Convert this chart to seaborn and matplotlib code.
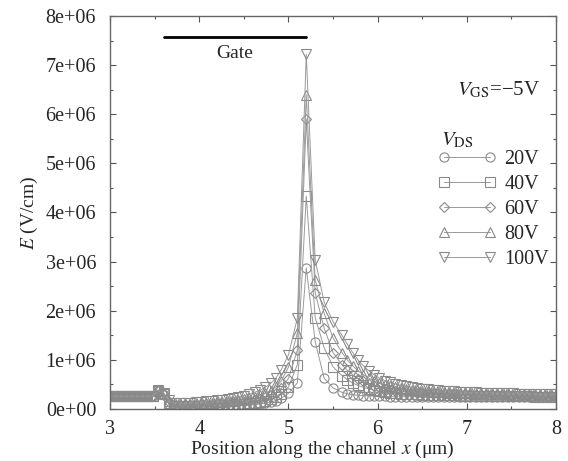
import numpy as np
import pandas as pd
import seaborn as sns
import matplotlib.pyplot as plt
from matplotlib.ticker import MultipleLocator, FuncFormatter

# Position along the channel (um): coarse mesh left of the gate edge,
# sparse around the peak, then the drain side
x_um = [3.00, 3.06, 3.12, 3.18, 3.24, 3.30, 3.36, 3.42, 3.48, 3.54, 3.60,
        3.66, 3.72, 3.78, 3.84, 3.90, 3.96, 4.02, 4.08, 4.14, 4.20, 4.26,
        4.32, 4.38, 4.44, 4.50, 4.56, 4.62, 4.68, 4.74, 4.80, 4.86, 4.92,
        5.00, 5.10, 5.20, 5.30, 5.40, 5.50,
        5.60, 5.66, 5.72, 5.78, 5.84, 5.90, 5.96, 6.02, 6.08, 6.14, 6.20,
        6.26, 6.32, 6.38, 6.44, 6.50, 6.56, 6.62, 6.68, 6.74, 6.80, 6.86,
        6.92, 6.98, 7.04, 7.10, 7.16, 7.22, 7.28, 7.34, 7.40, 7.46, 7.52,
        7.58, 7.64, 7.70, 7.76, 7.82, 7.88, 7.94, 8.00]

# Electric field in MV/cm for each drain voltage
e_20 = [0.26, 0.26, 0.26, 0.26, 0.26, 0.26, 0.26, 0.26, 0.27, 0.36, 0.29,
        0.10,
        0.05, 0.04, 0.04, 0.04, 0.04, 0.04, 0.05, 0.05, 0.05, 0.05, 0.06,
        0.06, 0.07, 0.07, 0.08, 0.09, 0.10, 0.12, 0.14, 0.17, 0.22,
        0.32, 0.53, 2.87, 1.37, 0.63, 0.43,
        0.34, 0.31, 0.29, 0.28, 0.27, 0.27, 0.26, 0.26, 0.26, 0.25, 0.25,
        0.25, 0.25, 0.25, 0.25, 0.24, 0.24, 0.24, 0.24, 0.24, 0.24, 0.24,
        0.24, 0.24, 0.24, 0.24, 0.24, 0.24, 0.24, 0.24, 0.24, 0.24, 0.24,
        0.24, 0.24, 0.24, 0.24, 0.24, 0.24, 0.24, 0.24]
e_40 = [0.26, 0.26, 0.26, 0.26, 0.26, 0.26, 0.26, 0.26, 0.27, 0.37, 0.30,
        0.12,
        0.07, 0.06, 0.06, 0.06, 0.06, 0.07, 0.07, 0.07, 0.08, 0.08, 0.09,
        0.09, 0.10, 0.11, 0.12, 0.13, 0.15, 0.17, 0.20, 0.24, 0.30,
        0.45, 0.90, 4.33, 1.86, 1.25, 0.86,
        0.68, 0.60, 0.53, 0.48, 0.44, 0.41, 0.38, 0.36, 0.35, 0.33, 0.32,
        0.31, 0.31, 0.30, 0.30, 0.29, 0.29, 0.29, 0.28, 0.28, 0.28, 0.28,
        0.27, 0.27, 0.27, 0.27, 0.27, 0.27, 0.26, 0.26, 0.26, 0.26, 0.26,
        0.26, 0.26, 0.26, 0.25, 0.25, 0.25, 0.25, 0.25]
e_60 = [0.26, 0.26, 0.26, 0.26, 0.26, 0.26, 0.26, 0.26, 0.27, 0.38, 0.31,
        0.14,
        0.09, 0.08, 0.08, 0.08, 0.09, 0.09, 0.10, 0.10, 0.11, 0.11, 0.12,
        0.13, 0.14, 0.15, 0.17, 0.19, 0.21, 0.24, 0.28, 0.33, 0.42,
        0.62, 1.20, 5.90, 2.37, 1.65, 1.15,
        0.90, 0.79, 0.70, 0.62, 0.56, 0.51, 0.47, 0.44, 0.41, 0.39, 0.37,
        0.36, 0.35, 0.34, 0.33, 0.32, 0.32, 0.31, 0.31, 0.30, 0.30, 0.30,
        0.29, 0.29, 0.29, 0.29, 0.28, 0.28, 0.28, 0.28, 0.28, 0.27, 0.27,
        0.27, 0.27, 0.27, 0.27, 0.27, 0.26, 0.26, 0.26]
e_80 = [0.26, 0.26, 0.26, 0.26, 0.26, 0.26, 0.26, 0.26, 0.27, 0.38, 0.32,
        0.16,
        0.11, 0.10, 0.10, 0.11, 0.11, 0.12, 0.12, 0.13, 0.14, 0.15, 0.16,
        0.17, 0.19, 0.20, 0.22, 0.25, 0.28, 0.32, 0.37, 0.45, 0.57,
        0.85, 1.55, 6.40, 2.63, 1.95, 1.45,
        1.15, 1.00, 0.88, 0.78, 0.70, 0.63, 0.57, 0.53, 0.49, 0.46, 0.44,
        0.42, 0.40, 0.39, 0.38, 0.37, 0.36, 0.35, 0.34, 0.34, 0.33, 0.33,
        0.32, 0.32, 0.32, 0.31, 0.31, 0.31, 0.30, 0.30, 0.30, 0.30, 0.29,
        0.29, 0.29, 0.29, 0.29, 0.28, 0.28, 0.28, 0.28]
e_100 = [0.26, 0.26, 0.26, 0.26, 0.26, 0.26, 0.26, 0.26, 0.27, 0.39, 0.33,
         0.18,
         0.13, 0.12, 0.13, 0.13, 0.14, 0.15, 0.16, 0.17, 0.18, 0.19, 0.21,
         0.23, 0.25, 0.27, 0.30, 0.34, 0.38, 0.44, 0.52, 0.63, 0.80,
         1.10, 1.85, 7.22, 3.04, 2.18, 1.78,
         1.50, 1.32, 1.15, 1.00, 0.88, 0.78, 0.70, 0.63, 0.58, 0.54, 0.51,
         0.48, 0.46, 0.44, 0.42, 0.41, 0.40, 0.39, 0.38, 0.37, 0.36, 0.36,
         0.35, 0.35, 0.34, 0.34, 0.33, 0.33, 0.33, 0.32, 0.32, 0.32, 0.32,
         0.31, 0.31, 0.31, 0.31, 0.30, 0.30, 0.30, 0.30]

vds_labels = ['20V', '40V', '60V', '80V', '100V']
markers = ['o', 's', 'D', '^', 'v']

# gate electrode extent (um) and field level where its bar is drawn
gate_x = [3.6, 5.2]
gate_y = 7.57e6

series = [e_20, e_40, e_60, e_80, e_100]
frames = []
for lab, vals in zip(vds_labels, series):
    frames.append(pd.DataFrame({'x': x_um, 'E': np.array(vals) * 1e6, 'VDS': lab}))
df = pd.concat(frames, ignore_index=True)

sns.set_style("ticks")
plt.rcParams['font.family'] = ['Liberation Serif', 'DejaVu Serif']
plt.rcParams['mathtext.fontset'] = 'stix'

fig = plt.figure(figsize=(5.68, 4.61), dpi=100)
ax = fig.add_axes([0.1937, 0.1128, 0.7852, 0.8525])

gray = '#8a8a8a'
for lab, m in zip(vds_labels, markers):
    sub = df[df['VDS'] == lab]
    ms = 5.2 if m == 'D' else 6.6
    sns.lineplot(data=sub, x='x', y='E', ax=ax, marker=m, markersize=ms,
                 color='#9a9a9a', lw=0.7, markerfacecolor='none',
                 markeredgecolor=gray, markeredgewidth=0.8, label=lab,
                 sort=False, estimator=None)

ax.plot(gate_x, [gate_y, gate_y], color='black', lw=2)
ax.text(sum(gate_x) / 2, gate_y - 0.33e6, 'Gate', ha='center', va='center',
        fontsize=14)

ax.set_xlim(3, 8)
ax.set_ylim(0, 8e6)
ax.xaxis.set_major_locator(MultipleLocator(1))
ax.xaxis.set_minor_locator(MultipleLocator(0.5))
ax.yaxis.set_major_locator(MultipleLocator(1e6))
ax.yaxis.set_minor_locator(MultipleLocator(0.5e6))
ax.yaxis.set_major_formatter(FuncFormatter(lambda v, p: '%.0e' % v))
ax.tick_params(which='both', direction='in', top=True, right=True,
               color='#555555', labelsize=14.5)
ax.tick_params(which='major', length=4, width=0.8)
ax.tick_params(which='minor', length=2.5, width=0.8)
ax.tick_params(axis='x', pad=8)
ax.tick_params(axis='y', pad=10)
for s in ax.spines.values():
    s.set_color('#666666')
    s.set_linewidth(1)

ax.set_xlabel('Position along the channel $x$ (\u03bcm)', fontsize=14, labelpad=-2)
ax.set_ylabel('$E$ (V/cm)', fontsize=14, labelpad=4)
ax.xaxis.set_label_coords(0.476, -0.075)

ax.text(0.964, 0.812, '$V_{\\mathrm{GS}}$=\u22125V', transform=ax.transAxes,
        ha='right', va='center', fontsize=15)
ax.text(0.742, 0.684, '$V_{\\mathrm{DS}}$', transform=ax.transAxes,
        ha='left', va='center', fontsize=15)

ax.legend(loc='upper left', bbox_to_anchor=(0.735, 0.66), frameon=False,
          numpoints=2, handlelength=2.9, handletextpad=0.4, labelspacing=0.3,
          borderpad=0, borderaxespad=0, fontsize=14.5)

fig.savefig('out.png', dpi=100)
